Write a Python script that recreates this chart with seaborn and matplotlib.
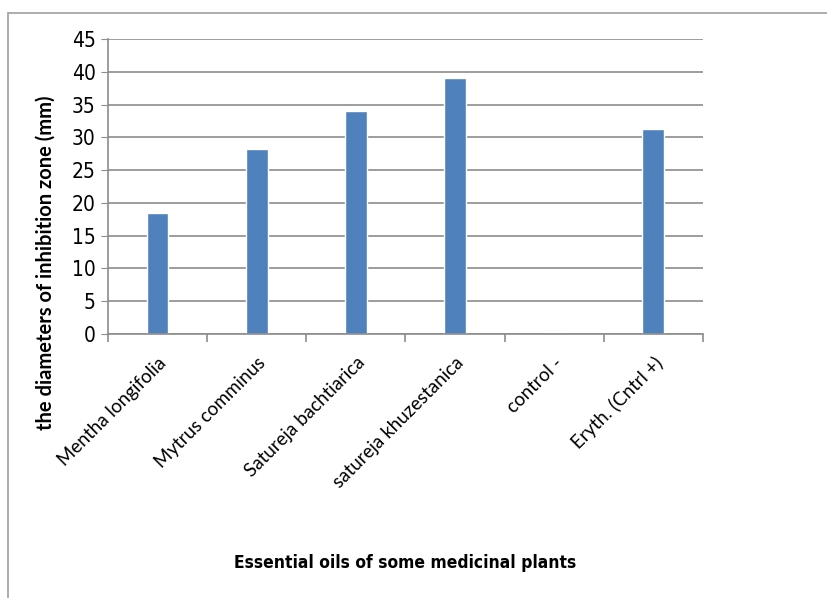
import matplotlib
matplotlib.use("Agg")
import matplotlib.pyplot as plt
import matplotlib.patches as mpatches
import pandas as pd
import seaborn as sns

# values
plants = ["Mentha longifolia", "Mytrus comminus", "Satureja bachtiarica",
          "satureja khuzestanica", "control -", "Eryth. (Cntrl +)"]
zones = [18.5, 28.2, 34.0, 39.0, 0.0, 31.2]

df = pd.DataFrame({"plant": plants, "zone": zones})

sns.set_style("white")
plt.rcParams["font.family"] = ["DejaVu Sans"]
plt.rcParams["font.stretch"] = "condensed"

fig = plt.figure(figsize=(8.27, 5.98), dpi=100)
ax = fig.add_axes([0.1306, 0.4415, 0.7194, 0.4933])

sns.barplot(data=df, x="plant", y="zone", color="#4f81bd", width=0.22,
            saturation=1, ax=ax)

ax.set_ylim(0, 45)
ax.set_xlim(-0.5, len(plants) - 0.5)
ax.set_yticks(range(0, 46, 5))
ax.yaxis.grid(True, color="#8c8c8c", linewidth=1.2)
ax.set_axisbelow(True)
for s in ["top", "right"]:
    ax.spines[s].set_visible(False)
for s in ["left", "bottom"]:
    ax.spines[s].set_color("#8c8c8c")
    ax.spines[s].set_linewidth(1.2)

ax.tick_params(axis="y", left=True, length=5, color="#8c8c8c", labelsize=15,
               labelcolor="black", pad=4)
ax.set_xticks(range(len(plants)))
ax.set_xticklabels(plants, rotation=45, ha="right", rotation_mode="anchor",
                   fontsize=13.5, family=["Lato", "DejaVu Sans"], color="black",
                   fontstretch="normal")
ax.tick_params(axis="x", bottom=False, pad=11)
ax.set_xticks([i - 0.5 for i in range(len(plants) + 1)], minor=True)
ax.tick_params(axis="x", which="minor", bottom=True, length=6, color="#8c8c8c", width=1.2)

ax.set_xlabel("")
ax.set_ylabel("")
fig.text(0.49, 0.058, "Essential oils of some medicinal plants", ha="center", va="center",
         fontsize=12.5, fontweight="bold", color="black")
fig.text(0.055, 0.56, "the diameters of inhibition zone (mm)", rotation=90,
         ha="center", va="center", fontsize=14.5, fontweight="bold", color="black",
         family=["Lato", "DejaVu Sans"])

# chart frame
fig.patches.append(mpatches.Rectangle((8 / 827, -0.01), 1.0, 1 - 13 / 598 + 0.01,
                                      transform=fig.transFigure, fill=False,
                                      edgecolor="#a0a0a0", linewidth=1.2))

fig.savefig("out.png", dpi=100)
